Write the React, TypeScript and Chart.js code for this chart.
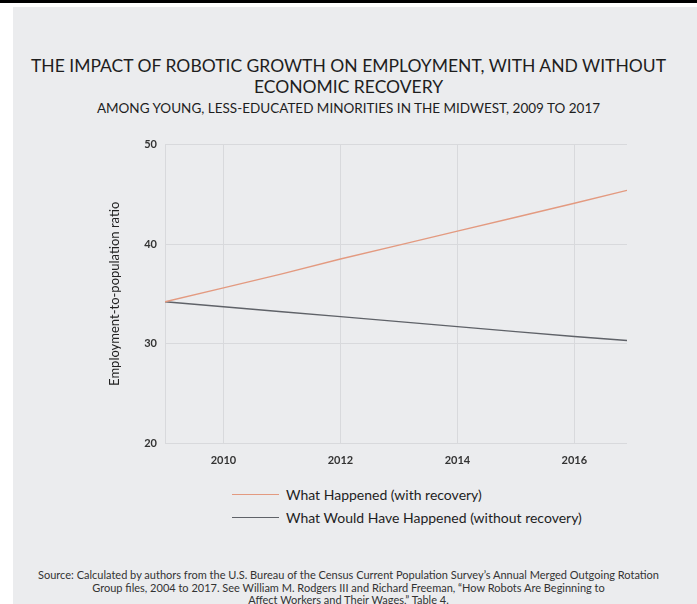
import React, { useEffect, useRef } from "react";
import { Chart, registerables } from "chart.js";

Chart.register(...registerables);

const titleLines = ["THE IMPACT OF ROBOTIC GROWTH ON EMPLOYMENT, WITH AND WITHOUT", "ECONOMIC RECOVERY"];
const subtitle = "AMONG YOUNG, LESS-EDUCATED MINORITIES IN THE MIDWEST, 2009 TO 2017";
const yAxisTitle = "Employment-to-population ratio";
const seriesLabels = ["What Happened (with recovery)", "What Would Have Happened (without recovery)"];
const seriesColors = ["#e39a80", "#5f6268"];
const years = [2009, 2010, 2011, 2012, 2013, 2014, 2015, 2016, 2016.9];
const withRecovery = [34.2, 35.6, 37.0, 38.5, 39.9, 41.3, 42.7, 44.1, 45.4];
const withoutRecovery = [34.2, 33.7, 33.2, 32.7, 32.2, 31.7, 31.2, 30.7, 30.3];
const xTicks = [2010, 2012, 2014, 2016];
const yTicks = [20, 30, 40, 50];
const sourceLines = [
  "Source: Calculated by authors from the U.S. Bureau of the Census Current Population Survey\u2019s Annual Merged Outgoing Rotation",
  "Group files, 2004 to 2017. See William M. Rodgers III and Richard Freeman, \u201cHow Robots Are Beginning to",
  "Affect Workers and Their Wages,\u201d Table 4.",
];

const FONT = "Lato, 'Open Sans', sans-serif";

export default function App() {
  const ref = useRef<HTMLCanvasElement | null>(null);

  useEffect(() => {
    document.body.style.margin = "0";
    const canvas = ref.current;
    if (!canvas) return;
    const series = [withRecovery, withoutRecovery];
    const chart = new Chart(canvas, {
      type: "line",
      data: {
        datasets: series.map((vals, i) => ({
          label: seriesLabels[i],
          data: vals.map((v, j) => ({ x: years[j], y: v })),
          borderColor: seriesColors[i],
          borderWidth: 1.4,
          pointRadius: 0,
          fill: false,
          tension: 0,
        })),
      },
      options: {
        responsive: false,
        animation: false,
        layout: { padding: { top: 12, right: 33, left: 0, bottom: 0 } },
        plugins: { legend: { display: false }, tooltip: { enabled: false }, title: { display: false } },
        scales: {
          x: {
            type: "linear",
            min: 2009,
            max: 2016.9,
            afterBuildTicks: (scale: any) => {
              scale.ticks = xTicks.map((v) => ({ value: v }));
            },
            afterFit: (scale: any) => {
              scale.height = 32;
            },
            ticks: {
              callback: (v: any) => String(v),
              font: { family: FONT, size: 11, weight: "bold" },
              color: "#333",
              padding: 11,
              maxRotation: 0,
            },
            grid: { color: "#d8d9dc", lineWidth: 1, drawTicks: false },
            border: { display: false },
          },
          y: {
            min: 20,
            max: 50,
            afterBuildTicks: (scale: any) => {
              scale.ticks = yTicks.map((v) => ({ value: v }));
            },
            afterFit: (scale: any) => {
              scale.width = 65;
            },
            ticks: {
              font: { family: FONT, size: 11, weight: "bold" },
              color: "#333",
              padding: 8,
            },
            grid: { color: "#d8d9dc", lineWidth: 1, drawTicks: false },
            border: { display: true, color: "#d8d9dc" },
            title: {
              display: true,
              text: yAxisTitle,
              font: { family: FONT, size: 13 },
              color: "#222",
              padding: { top: 7, bottom: 0 },
            },
          },
        },
      },
    });
    return () => chart.destroy();
  }, []);

  return (
    <div style={{ position: "relative", width: 697, height: 604, background: "#fff", overflow: "hidden", fontFamily: FONT }}>
      <div style={{ position: "absolute", left: 0, top: 0, width: 697, height: 3, background: "#000" }} />
      <div style={{ position: "absolute", left: 13, top: 7, width: 684, height: 597, background: "#ebecee" }} />
      <div
        style={{
          position: "absolute",
          left: 0,
          top: 55,
          width: 697,
          textAlign: "center",
          fontSize: 17.5,
          lineHeight: "21px",
          color: "#1e1e1e",
        }}
      >
        {titleLines.map((t, i) => (
          <div key={i}>{t}</div>
        ))}
      </div>
      <div
        style={{
          position: "absolute",
          left: 0,
          top: 100,
          width: 697,
          textAlign: "center",
          fontSize: 13.5,
          lineHeight: "16px",
          color: "#1e1e1e",
        }}
      >
        {subtitle}
      </div>
      <div style={{ position: "absolute", left: 100, top: 130, width: 560, height: 345 }}>
        <canvas ref={ref} width={560} height={345} />
      </div>
      <div style={{ position: "absolute", left: 232, top: 483 }}>
        {seriesLabels.map((l, i) => (
          <div key={i} style={{ display: "flex", alignItems: "center", height: 23 }}>
            <div style={{ width: 47, height: 1.4, background: seriesColors[i], marginRight: 7 }} />
            <div style={{ fontSize: 14, color: "#1e1e1e", whiteSpace: "nowrap" }}>{l}</div>
          </div>
        ))}
      </div>
      <div
        style={{
          position: "absolute",
          left: 0,
          top: 569,
          width: 697,
          textAlign: "center",
          fontSize: 11,
          lineHeight: "12.5px",
          color: "#333",
        }}
      >
        {sourceLines.map((t, i) => (
          <div key={i}>{t}</div>
        ))}
      </div>
    </div>
  );
}
